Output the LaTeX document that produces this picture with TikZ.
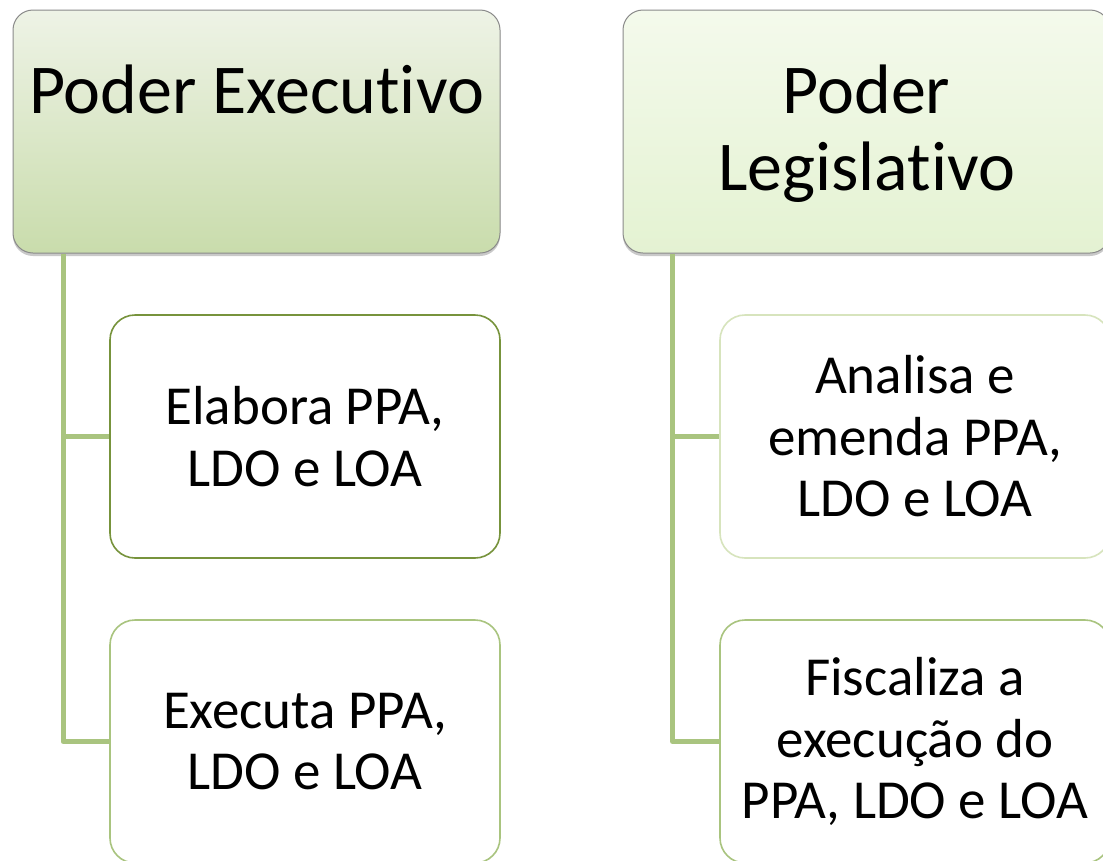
\documentclass[tikz,border=0pt]{standalone}
\usepackage{fontspec}
\setmainfont{Carlito}[Ligatures={NoCommon,NoContextual}]
\usetikzlibrary{shadows}
\definecolor{connG}{HTML}{A9C47F}
\definecolor{bdDark}{HTML}{77933C}
\definecolor{bdMid}{HTML}{A9C47F}
\definecolor{bdLight}{HTML}{D7E4BD}
\definecolor{topAtop}{HTML}{EEF3E6}
\definecolor{topAbot}{HTML}{C9DCAC}
\definecolor{topBtop}{HTML}{F4FAEC}
\definecolor{topBbot}{HTML}{E4F2D2}
\definecolor{topBorder}{HTML}{8A8A8A}
\tikzset{
  topbox/.style={draw=topBorder, line width=1pt, rounded corners=20pt,
    minimum width=487pt, minimum height=243pt, inner sep=0pt,
    drop shadow={shadow xshift=0pt, shadow yshift=-3pt, opacity=0.35, fill=black!60}},
  toptext/.style={font=\fontsize{70}{77}\selectfont, align=center, inner sep=0pt},
  childbox/.style={fill=white, line width=1.6pt, rounded corners=25pt,
    minimum width=390pt, minimum height=243pt, inner sep=0pt, align=center,
    font=\fontsize{55}{61.5}\selectfont},
  conn/.style={draw=connG, line width=5pt, line join=round}
}
\begin{document}
\begin{tikzpicture}[x=1pt, y=-1pt]
\path[use as bounding box, clip] (0,0) rectangle (1103,860);
\fill[white] (0,0) rectangle (1103,860);
% top boxes
\node[topbox, top color=topAtop, bottom color=topAbot] (pe) at (256.5,131.5) {};
\node[toptext, anchor=base] (pet) at (256.5,113) {Poder Execut\kern0pt ivo};
\node[topbox, top color=topBtop, bottom color=topBbot] (pl) at (866.5,131.5) {};
\node[toptext, anchor=base] (plt) at (866.5,190) {Poder\\Legislat\kern0pt ivo};
% children
\node[childbox, draw=bdDark] (e1) at (305,436.5) {Elabora PPA,\\LDO e LOA};
\node[childbox, draw=bdMid] (e2) at (305,741.5) {Executa PPA,\\LDO e LOA};
\node[childbox, draw=bdLight] (l1) at (915,436.5) {Analisa e\\emenda PPA,\\LDO e LOA};
\node[childbox, draw=bdMid] (l2) at (915,741.5) {Fiscaliza a\\execução do\\PPA, LDO e LOA};
% connectors
\coordinate (trunkL) at (63,253);
\coordinate (trunkR) at (672.5,253);
\draw[conn] (trunkL |- pe.south) |- (e2.west);
\draw[conn] (trunkL |- e1.west) -- (e1.west);
\draw[conn] (trunkR |- pl.south) |- (l2.west);
\draw[conn] (trunkR |- l1.west) -- (l1.west);
\end{tikzpicture}
\end{document}
